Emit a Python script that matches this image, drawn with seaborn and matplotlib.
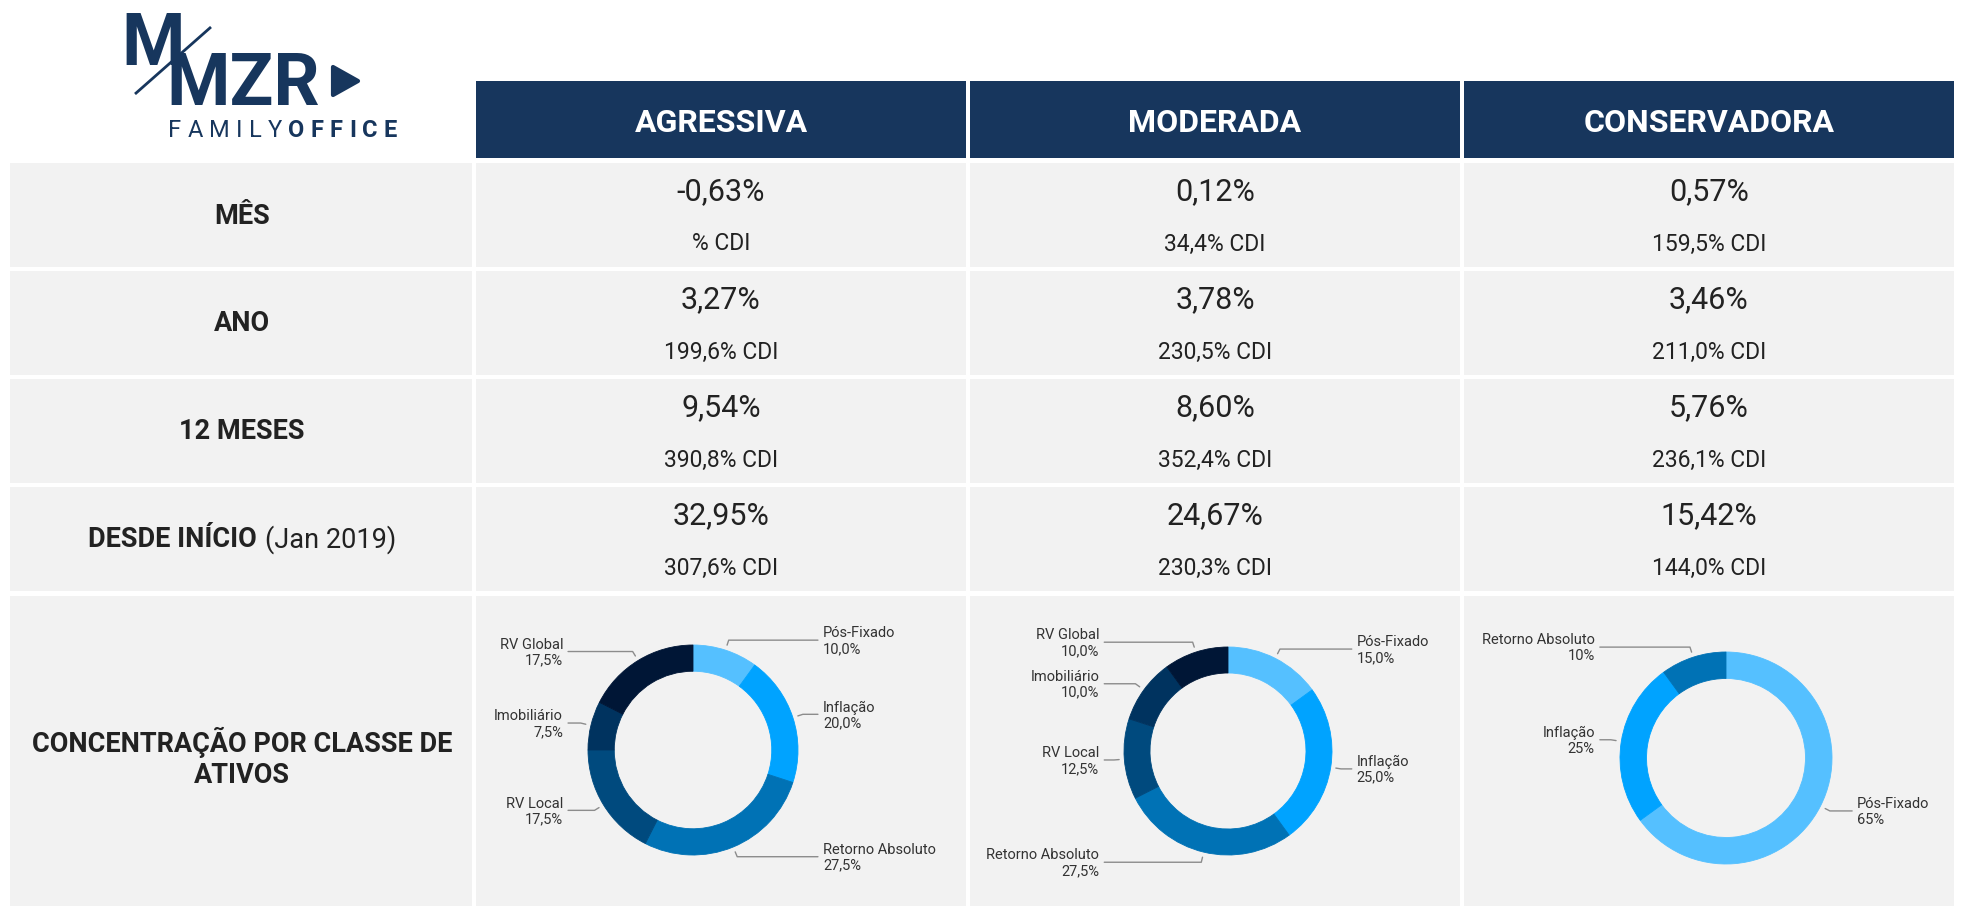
import numpy as np
import matplotlib
matplotlib.use('Agg')
import matplotlib.pyplot as plt
from matplotlib.patches import Rectangle, Polygon
import seaborn as sns

sns.set_theme(style='white')
plt.rcParams['font.family'] = ['Roboto', 'DejaVu Sans']

# ---- dados ----
perfis = ['AGRESSIVA', 'MODERADA', 'CONSERVADORA']
periodos = ['MÊS', 'ANO', '12 MESES', 'DESDE INÍCIO']

retorno = [[-0.63, 0.12, 0.57],
           [3.27, 3.78, 3.46],
           [9.54, 8.60, 5.76],
           [32.95, 24.67, 15.42]]
pct_cdi = [[None, 34.4, 159.5],
           [199.6, 230.5, 211.0],
           [390.8, 352.4, 236.1],
           [307.6, 230.3, 144.0]]

classes = ['Pós-Fixado', 'Inflação', 'Retorno Absoluto', 'RV Local', 'Imobiliário', 'RV Global']
aloc_agressiva = [10.0, 20.0, 27.5, 17.5, 7.5, 17.5]
aloc_moderada = [15.0, 25.0, 27.5, 12.5, 10.0, 10.0]
classes_conservadora = ['Pós-Fixado', 'Inflação', 'Retorno Absoluto']
aloc_conservadora = [65, 25, 10]

cores = sns.color_palette(['#55C0FF', '#00A3FF', '#0072B5', '#004A7E', '#00335F', '#001636'])
cor_classe = dict(zip(classes, cores))

NAVY = '#17365D'
CINZA = '#F2F2F2'
TXT = '#222222'

W, H = 1966, 920
fig = plt.figure(figsize=(W / 100, H / 100), dpi=100)
ax = fig.add_axes([0, 0, 1, 1])
ax.set_xlim(0, W)
ax.set_ylim(H, 0)
ax.axis('off')

# layout da tabela (pixels)
col_x = [(10, 472), (476, 966), (970, 1460), (1464, 1954)]
lin_y = [(164, 268), (272, 376), (380, 484), (488, 592), (597, 907)]
head_y = (82, 159)


def fmt(v, casas=2):
    return f'{v:.{casas}f}'.replace('.', ',')


# cabeçalho
for j, p in enumerate(perfis):
    x0, x1 = col_x[j + 1]
    ax.add_patch(Rectangle((x0, head_y[0]), x1 - x0, head_y[1] - head_y[0], color=NAVY, lw=0))
    ax.text((x0 + x1) / 2, (head_y[0] + head_y[1]) / 2 + 2, p, color='white', fontsize=23,
            fontweight='bold', ha='center', va='center')

# células
for i, (y0, y1) in enumerate(lin_y):
    for (x0, x1) in col_x:
        ax.add_patch(Rectangle((x0, y0), x1 - x0, y1 - y0, color=CINZA, lw=0))

renderer = fig.canvas.get_renderer()
xc_lab = (col_x[0][0] + col_x[0][1]) / 2 + 1

for i, per in enumerate(periodos):
    y0, y1 = lin_y[i]
    yc = (y0 + y1) / 2
    if per == 'DESDE INÍCIO':
        tb = ax.text(0, yc, per, fontsize=19.5, fontweight='bold', color=TXT, ha='left', va='center')
        tr = ax.text(0, yc, '(Jan 2019)', fontsize=19.5, color=TXT, ha='left', va='center')
        wb = tb.get_window_extent(renderer).width
        wr = tr.get_window_extent(renderer).width
        x_ini = xc_lab - (wb + 8 + wr) / 2
        tb.set_x(x_ini)
        tr.set_x(x_ini + wb + 8)
    else:
        ax.text(xc_lab, yc, per, fontsize=19.5, fontweight='bold', color=TXT, ha='center', va='center')
    for j in range(3):
        x0, x1 = col_x[j + 1]
        xc = (x0 + x1) / 2
        ax.text(xc, y0 + 28, fmt(retorno[i][j]) + '%', fontsize=22, color=TXT, ha='center', va='center')
        c = pct_cdi[i][j]
        txt = '% CDI' if c is None else fmt(c, 1) + '% CDI'
        ax.text(xc, y0 + 80, txt, fontsize=16.5, color=TXT, ha='center', va='center')

ax.text(xc_lab, 758, 'CONCENTRAÇÃO POR CLASSE DE\nATIVOS', fontsize=19.5, fontweight='bold',
        color=TXT, ha='center', va='center', linespacing=1.15)

# logo
ax.text(121, 65, 'M', fontsize=52, fontweight='bold', color=NAVY, ha='left', va='baseline')
ax.text(166, 105, 'MZR', fontsize=52, fontweight='bold', color=NAVY, ha='left', va='baseline')
ax.plot([133, 214], [97, 26], color='white', lw=5, solid_capstyle='butt')
ax.plot([135, 211], [95, 28], color=NAVY, lw=2, solid_capstyle='butt')
ax.add_patch(Polygon([(333, 68), (358, 82), (333, 96)], closed=True, color=NAVY, lw=3, joinstyle='round'))

letras = list('FAMILYOFFICE')
pesos = ['normal'] * 6 + ['bold'] * 6
objs = []
for ch, pw in zip(letras, pesos):
    objs.append(ax.text(0, 137, ch, fontsize=17, fontweight=pw, color=NAVY, ha='left', va='baseline'))
larg = [t.get_window_extent(renderer).width for t in objs]
esp = (397 - 168 - sum(larg)) / (len(letras) - 1)
xx = 168
for t, w in zip(objs, larg):
    t.set_x(xx)
    xx += w + esp


# donuts
def donut(cx, cy, r, labels, valores, casas):
    a = fig.add_axes([(cx - r) / W, 1 - (cy + r) / H, 2 * r / W, 2 * r / H])
    a.set_facecolor('none')
    wedges, _ = a.pie(valores, colors=[cor_classe[l] for l in labels], startangle=90,
                      counterclock=False, radius=1, wedgeprops=dict(width=0.25, lw=0.6))
    for w in wedges:
        w.set_edgecolor(w.get_facecolor())
    a.set_xlim(-1, 1)
    a.set_ylim(-1, 1)
    a.set_aspect('equal')
    a.axis('off')
    tot = sum(valores)
    acum = 0
    for lab, v in zip(labels, valores):
        meio = (acum + v / 2) / tot
        acum += v
        ang = np.deg2rad(90 - 360 * meio)
        c, s = np.cos(ang), np.sin(ang)
        lado = 1 if c >= 0 else -1
        xs = [1.05 * c, 1.1 * c, lado * 1.19]
        ys = [1.05 * s, 1.1 * s, 1.1 * s]
        a.plot(xs, ys, color='#8C8C8C', lw=1, clip_on=False)
        txt = f'{lab}\n{fmt(v, casas)}%'
        a.text(lado * 1.238, 1.1 * s, txt, fontsize=10.5, color='#333333',
               ha='left' if lado > 0 else 'right', va='center', linespacing=1.15, clip_on=False)


donut(693, 751, 105, classes, aloc_agressiva, 1)
donut(1228, 752, 104, classes, aloc_moderada, 1)
donut(1726, 759, 106, classes_conservadora, aloc_conservadora, 0)

fig.savefig('out.png', dpi=100, facecolor='white')
